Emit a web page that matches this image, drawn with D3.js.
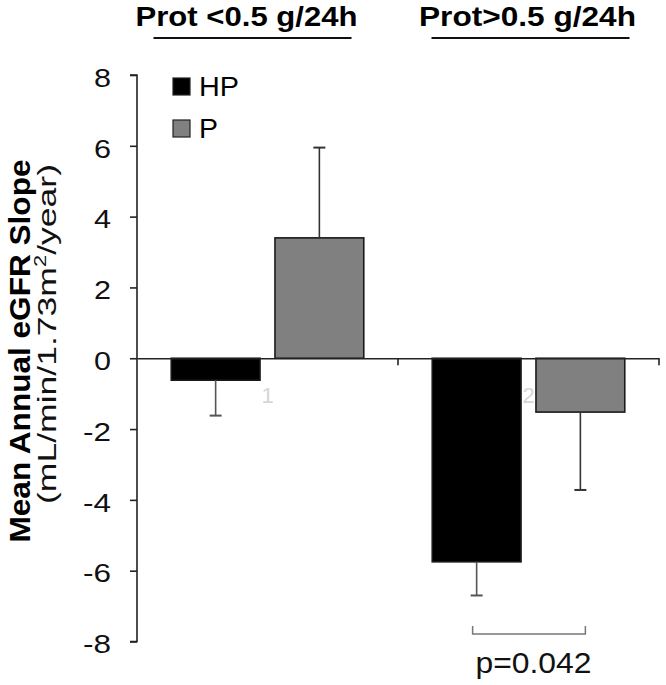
<!DOCTYPE html>
<html><head><meta charset="utf-8">
<script src="https://cdn.jsdelivr.net/npm/d3@7"></script>
<style>body{margin:0;background:#fff}svg{display:block}text{font-family:"Liberation Sans",Arial,sans-serif}</style>
</head><body>
<svg id="c" width="666" height="685"></svg>
<script>
const groups = ["1", "2"];
const groupTitles = ["Prot <0.5 g/24h", "Prot>0.5 g/24h"];
const series = ["HP", "P"];
const means = { HP: [-0.62, -5.75], P: [3.4, -1.52] };
const errors = { HP: [-1.0, -0.95], P: [2.55, -2.2] };
const yTicks = [-8, -6, -4, -2, 0, 2, 4, 6, 8];
const pLabel = "p=0.042";

const svg = d3.select("#c");
const colors = { HP: "#000000", P: "#808080" };

const y = d3.scaleLinear().domain([-8, 8]).range([641.5, 75]);
const x0 = d3.scaleBand().domain(groups).range([137, 659]).paddingInner(0).paddingOuter(0);
const x1 = d3.scaleBand().domain(series).range([0, x0.bandwidth()]).paddingInner(0.144).paddingOuter(0.33);

// y axis
const yAxis = svg.append("g").attr("transform", "translate(137,0)")
  .call(d3.axisLeft(y).tickValues(yTicks).tickSize(7).tickPadding(19).tickFormat(d3.format("d")));
yAxis.select(".domain").attr("stroke", "#222").attr("stroke-width", 1.6).attr("d", `M-7,${y(8)}H0V${y(-8)}H-7`);
yAxis.selectAll(".tick line").attr("stroke", "#222").attr("stroke-width", 1.6);
yAxis.selectAll(".tick text").attr("font-size", 25).attr("fill", "#111").attr("dy", "0.45em")
  .attr("font-family", "Liberation Sans, Arial, sans-serif")
  .attr("textLength", d => d < 0 ? 28 : 17).attr("lengthAdjust", "spacingAndGlyphs")
  .text(d => d < 0 ? "-" + Math.abs(d) : d);

// bars
const gBars = svg.append("g");
series.forEach(s => {
  groups.forEach((g, i) => {
    const v = means[s][i];
    const bx = x0(g) + x1(s);
    gBars.append("rect")
      .attr("x", bx).attr("width", x1.bandwidth())
      .attr("y", y(Math.max(0, v))).attr("height", Math.abs(y(v) - y(0)))
      .attr("fill", colors[s]).attr("stroke", "#1a1a1a").attr("stroke-width", 1.6);
    const e = v + errors[s][i];
    const cx = bx + x1.bandwidth() / 2;
    gBars.append("line").attr("x1", cx).attr("x2", cx).attr("y1", y(v)).attr("y2", y(e))
      .attr("stroke", s === "HP" ? "#555" : "#333").attr("stroke-width", 1.6);
    gBars.append("line").attr("x1", cx - 6).attr("x2", cx + 6).attr("y1", y(e)).attr("y2", y(e))
      .attr("stroke", s === "HP" ? "#555" : "#333").attr("stroke-width", 2);
  });
});

// x axis at zero
const xAxis = svg.append("g").attr("transform", `translate(0,${y(0)})`)
  .call(d3.axisBottom(x0).tickSize(0).tickPadding(29));
xAxis.select(".domain").attr("stroke", "#222").attr("stroke-width", 1.6);
xAxis.selectAll(".tick text").attr("font-size", 22).attr("fill", "#d6d6d6").attr("font-family", "DejaVu Sans").attr("font-weight", 200);
groups.forEach(g => {
  const bx = x0(g) + x0.bandwidth();
  xAxis.append("line").attr("x1", bx).attr("x2", bx).attr("y1", 0).attr("y2", 7)
    .attr("stroke", "#222").attr("stroke-width", 1.6);
});

// group titles
const titleOffsets = [-21, -1];
const titleWidths = [222, 217];
const lineOffsets = [-15, 2];
groups.forEach((g, i) => {
  const cx = x0(g) + x0.bandwidth() / 2;
  svg.append("text").attr("x", cx + titleOffsets[i]).attr("y", 26).attr("text-anchor", "middle")
    .attr("font-size", 27.5).attr("font-weight", "bold").attr("fill", "#000")
    .attr("textLength", titleWidths[i]).attr("lengthAdjust", "spacingAndGlyphs")
    .text(groupTitles[i]);
  svg.append("line").attr("x1", cx + lineOffsets[i] - 99).attr("x2", cx + lineOffsets[i] + 99)
    .attr("y1", 38).attr("y2", 38).attr("stroke", "#111").attr("stroke-width", 2);
});

// legend
series.forEach((s, i) => {
  const ly = 78 + i * 42;
  svg.append("rect").attr("x", 173).attr("y", ly).attr("width", 17).attr("height", 17)
    .attr("fill", colors[s]).attr("stroke", "#222").attr("stroke-width", 1.2);
  svg.append("text").attr("x", 199).attr("y", ly + 18).attr("font-size", 27).attr("fill", "#000")
    .attr("textLength", s === "HP" ? 40 : 19).attr("lengthAdjust", "spacingAndGlyphs").text(s);
});

// y title
svg.append("text").attr("transform", "translate(30,351) rotate(-90)").attr("text-anchor", "middle")
  .attr("font-size", 29).attr("font-weight", "bold").attr("fill", "#000")
  .attr("textLength", 383).attr("lengthAdjust", "spacingAndGlyphs").text("Mean Annual eGFR Slope");
const t2 = svg.append("text").attr("transform", "translate(56,334) rotate(-90)").attr("text-anchor", "middle")
  .attr("font-size", 26).attr("fill", "#111")
  .attr("textLength", 340).attr("lengthAdjust", "spacingAndGlyphs");
t2.append("tspan").text("(mL/min/1.73m");
t2.append("tspan").attr("font-size", 16).attr("dy", -10).text("2");
t2.append("tspan").attr("dy", 10).text("/year)");

// significance bracket
const bx1 = x0("2") + x1("HP") + x1.bandwidth() / 2;
const bx2 = x0("2") + x1("P") + x1.bandwidth() / 2;
svg.append("path").attr("d", `M${bx1 - 4},626V634H${bx2 + 5}V626`)
  .attr("fill", "none").attr("stroke", "#777").attr("stroke-width", 1.5);
svg.append("text").attr("x", (bx1 + bx2) / 2 + 5).attr("y", 673).attr("text-anchor", "middle")
  .attr("font-size", 30).attr("fill", "#111")
  .attr("textLength", 116).attr("lengthAdjust", "spacingAndGlyphs").text(pLabel);
</script>
</body></html>
